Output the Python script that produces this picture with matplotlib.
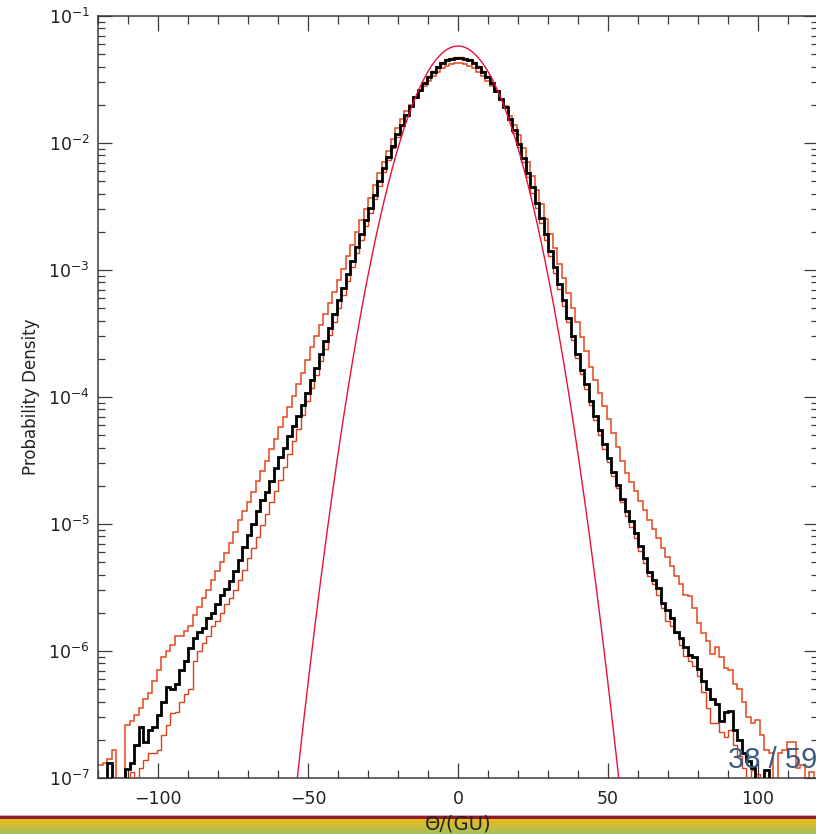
import numpy as np
import matplotlib
matplotlib.use("Agg")
import matplotlib.pyplot as plt
from matplotlib.patches import Rectangle
from matplotlib.ticker import MultipleLocator, LogLocator, NullFormatter

# ---------------------------------------------------------------------------
# Histogram data: log10 probability density per 1.5 GU bin, from -120 to 120.
# Left halves run from the bin centred at -119.25 up to -0.75, right halves
# from 0.75 up to 119.25.  -9 marks an empty bin.
# ---------------------------------------------------------------------------
bin_lo, bin_hi, n_bins = -120.0, 120.0, 160

black_left = [
    -9, -9, -6.88, -9, -9, -9, -6.93, -6.88, -6.74, -6.6,
    -6.72, -6.62, -6.6, -6.5, -6.4, -6.28, -6.3, -6.26, -6.15, -6.08,
    -5.98, -5.9, -5.85, -5.82, -5.74, -5.7, -5.63, -5.56, -5.51, -5.45,
    -5.37, -5.28, -5.18, -5.09, -5.0, -4.9, -4.81, -4.75, -4.66, -4.56,
    -4.47, -4.4, -4.31, -4.23, -4.15, -4.06, -3.97, -3.87, -3.77, -3.66,
    -3.56, -3.46, -3.35, -3.24, -3.14, -3.03, -2.93, -2.82, -2.72, -2.61,
    -2.51, -2.41, -2.3, -2.2, -2.11, -2.02, -1.93, -1.86, -1.78, -1.71,
    -1.64, -1.58, -1.53, -1.48, -1.44, -1.4, -1.37, -1.35, -1.34, -1.33,
]
black_right = [
    -1.33, -1.34, -1.35, -1.37, -1.4, -1.44, -1.48, -1.53, -1.59, -1.65,
    -1.72, -1.81, -1.9, -2.01, -2.12, -2.24, -2.35, -2.47, -2.59, -2.72,
    -2.85, -2.98, -3.11, -3.24, -3.38, -3.52, -3.66, -3.79, -3.9, -4.03,
    -4.15, -4.26, -4.37, -4.48, -4.59, -4.69, -4.8, -4.9, -4.98, -5.07,
    -5.17, -5.27, -5.38, -5.44, -5.5, -5.62, -5.68, -5.74, -5.85, -5.9,
    -5.97, -6.03, -6.05, -6.14, -6.24, -6.3, -6.38, -6.42, -6.55, -6.48,
    -6.47, -6.62, -6.7, -6.8, -6.87, -6.92, -9, -9, -6.94, -9,
    -9, -9, -9, -9, -9, -9, -9, -9, -9, -9,
]

wide_left = [
    -6.9, -6.88, -6.85, -6.78, -9, -9, -6.58, -6.55, -6.5, -6.45,
    -6.38, -6.33, -6.24, -6.15, -6.05, -6.0, -5.95, -5.88, -5.88, -5.84,
    -5.8, -5.72, -5.65, -5.58, -5.52, -5.44, -5.37, -5.3, -5.23, -5.15,
    -5.06, -4.97, -4.9, -4.83, -4.75, -4.66, -4.58, -4.5, -4.41, -4.33,
    -4.24, -4.16, -4.08, -3.99, -3.9, -3.81, -3.71, -3.61, -3.52, -3.43,
    -3.35, -3.26, -3.17, -3.08, -2.99, -2.89, -2.8, -2.7, -2.61, -2.52,
    -2.43, -2.33, -2.24, -2.15, -2.06, -1.97, -1.88, -1.81, -1.75, -1.7,
    -1.64, -1.59, -1.55, -1.51, -1.47, -1.44, -1.41, -1.39, -1.38, -1.37,
]
wide_right = [
    -1.37, -1.38, -1.39, -1.41, -1.44, -1.47, -1.51, -1.55, -1.6, -1.65,
    -1.71, -1.79, -1.86, -1.94, -2.04, -2.15, -2.26, -2.37, -2.48, -2.6,
    -2.72, -2.83, -2.95, -3.06, -3.18, -3.3, -3.41, -3.53, -3.64, -3.76,
    -3.87, -3.97, -4.07, -4.17, -4.28, -4.39, -4.5, -4.6, -4.67, -4.74,
    -4.82, -4.89, -4.97, -5.04, -5.11, -5.19, -5.26, -5.33, -5.41, -5.47,
    -5.56, -5.57, -5.66, -5.78, -5.86, -5.92, -6.02, -5.97, -6.05, -6.13,
    -6.15, -6.26, -6.3, -6.4, -6.52, -6.57, -6.54, -6.66, -6.78, -6.8,
    -9, -6.8, -6.78, -6.72, -6.72, -6.92, -6.9, -9, -6.95, -9,
]

narrow_left = [
    -9, -9, -9, -9, -9, -9, -9, -6.95, -9, -6.92,
    -6.86, -6.8, -6.8, -6.78, -6.66, -6.58, -6.49, -6.48, -6.4, -6.34,
    -6.3, -6.08, -6.0, -5.94, -5.88, -5.8, -5.76, -5.7, -5.63, -5.58,
    -5.52, -5.44, -5.36, -5.27, -5.19, -5.1, -5.01, -4.92, -4.83, -4.74,
    -4.65, -4.55, -4.45, -4.35, -4.25, -4.14, -4.03, -3.93, -3.83, -3.72,
    -3.62, -3.51, -3.41, -3.3, -3.2, -3.09, -2.98, -2.87, -2.76, -2.65,
    -2.55, -2.44, -2.34, -2.23, -2.13, -2.04, -1.95, -1.87, -1.79, -1.71,
    -1.64, -1.58, -1.52, -1.47, -1.43, -1.39, -1.36, -1.34, -1.33, -1.32,
]
narrow_right = [
    -1.32, -1.33, -1.34, -1.36, -1.39, -1.43, -1.47, -1.52, -1.58, -1.65,
    -1.72, -1.82, -1.92, -2.03, -2.15, -2.27, -2.39, -2.51, -2.63, -2.76,
    -2.89, -3.02, -3.15, -3.28, -3.41, -3.55, -3.69, -3.82, -3.94, -4.06,
    -4.18, -4.3, -4.41, -4.51, -4.62, -4.72, -4.83, -4.94, -5.02, -5.11,
    -5.21, -5.31, -5.41, -5.47, -5.56, -5.66, -5.76, -5.8, -5.86, -5.95,
    -6.04, -6.08, -6.12, -6.2, -6.32, -6.45, -6.57, -6.57, -6.64, -6.68,
    -6.62, -6.74, -6.83, -6.92, -9, -6.94, -6.97, -9, -9, -9,
    -9, -9, -9, -9, -9, -9, -9, -9, -9, -9,
]

# Gaussian reference curve
gauss_peak = 0.058
gauss_mean = 0.0
gauss_sigma = 10.4

x_ticks = [-100, -50, 0, 50, 100]
page_label = "38 / 59"

# ---------------------------------------------------------------------------
W, H = 816, 834
fig = plt.figure(figsize=(W / 100, H / 100), dpi=100)
fig.patch.set_facecolor("white")

ax = fig.add_axes([98 / W, 56 / H, 720 / W, 762 / H])
ax.set_zorder(2)

edges = np.linspace(bin_lo, bin_hi, n_bins + 1)
orange = "#E5461C"


def density(left, right):
    return 10.0 ** np.array(left + right, dtype=float)


ax.stairs(density(wide_left, wide_right), edges, baseline=None,
          color=orange, lw=1.1, zorder=2)
ax.stairs(density(narrow_left, narrow_right), edges, baseline=None,
          color="#D8401E", lw=1.0, zorder=3)
ax.stairs(density(black_left, black_right), edges, baseline=None,
          color="black", lw=2.0, zorder=4)

xg = np.linspace(-70, 70, 2001)
yg = gauss_peak * np.exp(-0.5 * ((xg - gauss_mean) / gauss_sigma) ** 2)
ax.plot(xg, yg, color="#E8103A", lw=1.0, zorder=5)

ax.set_yscale("log")
ax.set_xlim(bin_lo, bin_hi)
ax.set_ylim(1e-7, 1e-1)

ax.set_xticks(x_ticks)
ax.set_xticklabels(["\u2212100", "\u221250", "0", "50", "100"])
ax.xaxis.set_minor_locator(MultipleLocator(10))
ax.yaxis.set_major_locator(LogLocator(base=10, numticks=10))
ax.yaxis.set_minor_locator(LogLocator(base=10, subs=np.arange(2, 10), numticks=20))
ax.yaxis.set_minor_formatter(NullFormatter())

axis_col = "#3a3a3a"
for sp in ax.spines.values():
    sp.set_color(axis_col)
    sp.set_linewidth(1.1)
ax.tick_params(axis="x", which="major", direction="in", length=11, width=0.9,
               top=True, bottom=True, pad=9, labelsize=12.5, colors=axis_col,
               labelcolor="#222222")
ax.tick_params(axis="x", which="minor", direction="in", length=5.5, width=0.9,
               top=True, bottom=True, colors=axis_col)
ax.tick_params(axis="y", which="major", direction="in", length=10, width=0.9,
               left=True, right=True, pad=6, labelsize=12.5, colors=axis_col,
               labelcolor="#222222")
ax.tick_params(axis="y", which="minor", direction="in", length=5, width=0.9,
               left=True, right=True, colors=axis_col)

ax.set_ylabel("Probability Density", fontsize=12, color="#222222", labelpad=6)
ax.set_xlabel("\u0398/(GU)", fontsize=14, color="#222222", labelpad=4)

# footer band of the slide, drawn beneath the axes so the label sits on top
px = 1.0 / H
fig.add_artist(Rectangle((0, 18 * px), 1, 1 * px, transform=fig.transFigure,
                         facecolor=(0.86, 0.66, 0.66), edgecolor="none", zorder=1))
fig.add_artist(Rectangle((0, 15 * px), 1, 3 * px, transform=fig.transFigure,
                         facecolor=(0.55, 0.11, 0.17), edgecolor="none", zorder=1))
top_c = np.array([0.93, 0.72, 0.10])
bot_c = np.array([0.64, 0.76, 0.36])
n_grad = 15
for i in range(n_grad):
    t = i / (n_grad - 1)
    fig.add_artist(Rectangle((0, (14 - i) * px), 1, 1.05 * px,
                             transform=fig.transFigure,
                             facecolor=tuple(top_c * (1 - t) + bot_c * t),
                             edgecolor="none", zorder=1))

fig.text(728 / W, 1 - 760 / H, page_label, fontsize=21, color="#3B5A7E",
         ha="left", va="center", family="Liberation Sans", zorder=10)

fig.savefig("out.png", dpi=100)
